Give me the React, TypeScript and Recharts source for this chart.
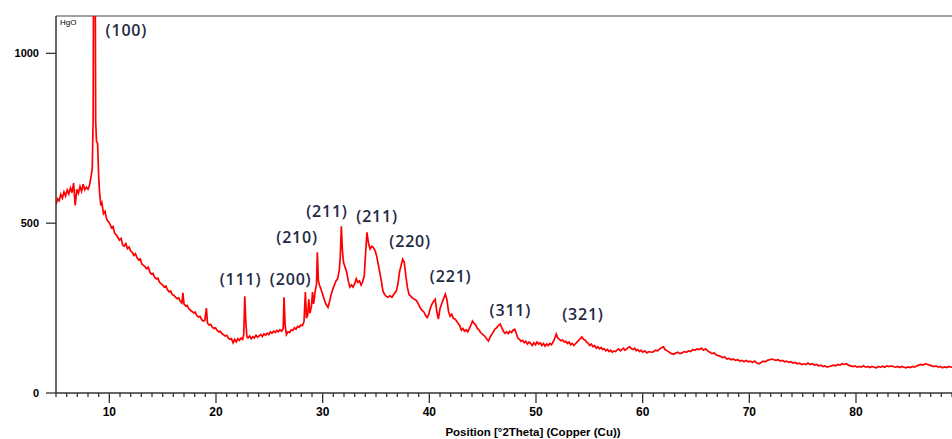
import { LineChart, Line, XAxis, YAxis, ReferenceLine, ReferenceDot } from "recharts";

// XRD scan, [2theta (deg), counts]
const scanLow: [number, number][] = [
  [5.0, 555], [5.15, 572], [5.3, 566], [5.45, 585], [5.6, 574], [5.75, 592], [5.9, 580],
  [6.05, 598], [6.2, 586], [6.35, 604], [6.5, 590], [6.65, 618], [6.8, 552], [6.95, 600],
  [7.1, 588], [7.25, 608], [7.4, 594], [7.55, 615], [7.7, 598], [7.85, 606], [8.0, 600],
  [8.15, 612], [8.3, 640], [8.4, 662], [8.48, 800], [8.55, 1500], [8.65, 1500], [8.72, 800],
  [8.8, 740], [8.9, 735], [9.0, 640], [9.08, 592], [9.2, 552], [9.3, 560],
  [9.45, 528], [9.6, 535], [9.75, 512], [9.9, 505], [10.05, 498], [10.2, 486], [10.35, 490],
  [10.5, 470], [10.65, 466], [10.8, 458], [10.95, 450], [11.1, 455], [11.25, 436], [11.4, 432],
  [11.55, 440], [11.7, 425], [11.85, 430], [12.0, 418], [12.15, 414], [12.3, 405], [12.45, 410],
  [12.6, 398], [12.75, 392], [12.9, 395], [13.05, 380], [13.2, 376], [13.35, 372], [13.5, 366],
  [13.65, 370], [13.8, 356], [13.95, 350], [14.1, 352], [14.25, 340], [14.4, 336], [14.55, 338],
  [14.7, 326], [14.85, 322], [15.0, 318], [15.15, 312], [15.3, 315], [15.45, 304], [15.6, 298],
  [15.75, 300], [15.9, 290], [16.05, 288], [16.2, 282], [16.35, 278], [16.5, 280], [16.65, 270],
  [16.8, 265], [16.9, 295], [17.0, 262], [17.15, 256], [17.3, 258], [17.45, 248], [17.6, 244],
  [17.75, 240], [17.9, 236], [18.05, 238], [18.2, 228], [18.35, 224], [18.5, 226], [18.65, 216],
  [18.8, 212], [18.95, 214], [19.1, 250], [19.2, 206], [19.35, 200], [19.5, 202], [19.65, 194],
  [19.8, 190], [19.95, 192], [20.1, 184], [20.25, 180], [20.4, 182], [20.55, 175], [20.7, 172],
  [20.85, 168], [21.0, 170], [21.15, 162], [21.3, 158], [21.45, 160], [21.6, 148], [21.75, 158],
  [21.9, 150], [22.05, 160], [22.2, 155], [22.35, 162], [22.5, 158], [22.6, 172], [22.7, 285],
  [22.8, 205], [22.9, 165],
];

const scanMid: [number, number][] = [
  [23.0, 162], [23.15, 168], [23.3, 160], [23.45, 166], [23.6, 162], [23.75, 170], [23.9, 164],
  [24.05, 168], [24.2, 172], [24.35, 166], [24.5, 174], [24.65, 170], [24.8, 176], [24.95, 172],
  [25.1, 180], [25.25, 176], [25.4, 182], [25.55, 178], [25.7, 184], [25.85, 180], [26.0, 186],
  [26.15, 182], [26.3, 190], [26.38, 282], [26.48, 200], [26.6, 172], [26.75, 180], [26.9, 178],
  [27.05, 186], [27.2, 184], [27.35, 192], [27.5, 188], [27.65, 196], [27.8, 194], [27.95, 200],
  [28.1, 198], [28.25, 210], [28.38, 297], [28.48, 220], [28.6, 230], [28.7, 276], [28.8, 235],
  [28.95, 255], [29.05, 297], [29.15, 262], [29.3, 300], [29.42, 320], [29.5, 414], [29.6, 330],
  [29.7, 318], [29.85, 305], [30.0, 290], [30.15, 275], [30.3, 262], [30.5, 252], [30.65, 270],
  [30.8, 290], [30.95, 306], [31.1, 318], [31.25, 330], [31.4, 336], [31.55, 360], [31.65, 400],
  [31.75, 491], [31.85, 420], [31.95, 385], [32.1, 370], [32.25, 356], [32.4, 330], [32.55, 312],
  [32.7, 318], [32.85, 312], [33.0, 322], [33.15, 336], [33.3, 326], [33.45, 330], [33.6, 318],
  [33.75, 328], [33.9, 345], [34.0, 400], [34.15, 473], [34.3, 440], [34.45, 424], [34.6, 432],
  [34.75, 428], [34.9, 420], [35.05, 405], [35.2, 380], [35.35, 356], [35.5, 330], [35.65, 300],
  [35.8, 291], [35.95, 285], [36.1, 282], [36.3, 286], [36.5, 282], [36.7, 292], [36.9, 300],
  [37.05, 320], [37.2, 356], [37.35, 375], [37.5, 394], [37.65, 385], [37.8, 344], [37.95, 310],
  [38.1, 290], [38.25, 285], [38.4, 280], [38.6, 276], [38.8, 272], [39.0, 260], [39.15, 250],
  [39.3, 244], [39.5, 238], [39.65, 228], [39.8, 222], [39.95, 232], [40.1, 250], [40.25, 262],
  [40.4, 270], [40.55, 276], [40.7, 240], [40.85, 218], [41.0, 248], [41.15, 262], [41.3, 275],
  [41.5, 291], [41.65, 275], [41.8, 240], [41.95, 226],
];

const scanHigh: [number, number][] = [
  [42.1, 232], [42.25, 220], [42.4, 218], [42.55, 212], [42.7, 205], [42.85, 198], [43.0, 185],
  [43.15, 190], [43.3, 182], [43.45, 186], [43.6, 180], [43.75, 190], [43.9, 200], [44.05, 212],
  [44.2, 205], [44.35, 200], [44.5, 190], [44.65, 186], [44.8, 178], [44.95, 174], [45.1, 170],
  [45.25, 165], [45.4, 158], [45.55, 153], [45.7, 165], [45.85, 172], [46.0, 180], [46.15, 188],
  [46.3, 192], [46.5, 200], [46.65, 203], [46.8, 192], [46.95, 182], [47.1, 176], [47.25, 180],
  [47.4, 175], [47.55, 182], [47.7, 178], [47.85, 185], [48.0, 188], [48.15, 176], [48.3, 162],
  [48.45, 158], [48.6, 152], [48.75, 155], [48.9, 148], [49.05, 152], [49.2, 144], [49.35, 150],
  [49.5, 146], [49.65, 140], [49.8, 148], [49.95, 142], [50.1, 150], [50.25, 144], [50.4, 148],
  [50.55, 140], [50.7, 146], [50.85, 138], [51.0, 144], [51.15, 140], [51.3, 146], [51.45, 142],
  [51.6, 150], [51.75, 160], [51.9, 174], [52.05, 162], [52.2, 158], [52.35, 154], [52.5, 156],
  [52.65, 150], [52.8, 152], [52.95, 146], [53.1, 150], [53.25, 142], [53.4, 146], [53.55, 140],
  [53.7, 145], [53.85, 150], [54.0, 155], [54.15, 160], [54.3, 165], [54.45, 158], [54.6, 156],
  [54.75, 150], [54.9, 146], [55.05, 140], [55.2, 144], [55.35, 136], [55.5, 140], [55.65, 132],
  [55.8, 136], [55.95, 130], [56.1, 134], [56.25, 128], [56.4, 130], [56.55, 124], [56.7, 128],
  [56.85, 122], [57.0, 126], [57.15, 120], [57.3, 124], [57.45, 122], [57.6, 126], [57.75, 130],
  [57.9, 124], [58.05, 128], [58.2, 132], [58.35, 126], [58.5, 130], [58.65, 134], [58.8, 136],
  [58.95, 130], [59.1, 128], [59.25, 132], [59.4, 125], [59.55, 128], [59.7, 122], [59.85, 126],
  [60.0, 120], [60.2, 124], [60.4, 118], [60.6, 122], [60.8, 120], [61.0, 121], [61.2, 126],
  [61.4, 124], [61.6, 130], [61.8, 134], [61.95, 136], [62.1, 128], [62.3, 124], [62.5, 120],
  [62.7, 116], [62.9, 114], [63.1, 118], [63.3, 120], [63.5, 116], [63.7, 118], [63.9, 122],
  [64.1, 120], [64.3, 124], [64.5, 122], [64.7, 128], [64.9, 126], [65.1, 130], [65.3, 128],
  [65.5, 132], [65.7, 126], [65.9, 130], [66.1, 124], [66.3, 120], [66.5, 116], [66.7, 118],
  [66.9, 112], [67.1, 110], [67.3, 108], [67.5, 104], [67.7, 106], [67.9, 100], [68.1, 102],
  [68.3, 98], [68.5, 100], [68.7, 96], [68.9, 98], [69.1, 94], [69.3, 96], [69.5, 92],
  [69.7, 96], [69.9, 92], [70.1, 94], [70.3, 90], [70.5, 94], [70.7, 88], [70.9, 86],
  [71.1, 90], [71.3, 94], [71.5, 92], [71.7, 96], [71.9, 98], [72.1, 100], [72.3, 98],
  [72.5, 96], [72.7, 98], [72.9, 94], [73.1, 96], [73.3, 92], [73.5, 94], [73.7, 90],
  [73.9, 92], [74.1, 88], [74.3, 90], [74.5, 86], [74.7, 88], [74.9, 84], [75.1, 86],
  [75.3, 84], [75.5, 88], [75.7, 84], [75.9, 86], [76.1, 82], [76.3, 84], [76.5, 80],
  [76.7, 82], [76.9, 78], [77.1, 80], [77.3, 76], [77.5, 78], [77.7, 80], [77.9, 82],
  [78.1, 80], [78.3, 84], [78.5, 82], [78.7, 86], [78.9, 84], [79.1, 86], [79.3, 82],
  [79.5, 80], [79.7, 78], [79.9, 80], [80.1, 76], [80.3, 78], [80.5, 76], [80.7, 80],
  [80.9, 76], [81.1, 78], [81.3, 75], [81.5, 78], [81.7, 76], [81.9, 74], [82.1, 78],
  [82.3, 76], [82.5, 79], [82.7, 76], [82.9, 80], [83.1, 78], [83.3, 80], [83.5, 78],
  [83.7, 76], [83.9, 78], [84.1, 75], [84.3, 78], [84.5, 76], [84.7, 74], [84.9, 77],
  [85.1, 75], [85.3, 78], [85.5, 76], [85.7, 80], [85.9, 82], [86.1, 84], [86.3, 82],
  [86.5, 86], [86.7, 84], [86.9, 82], [87.1, 80], [87.3, 78], [87.5, 80], [87.7, 76],
  [87.9, 78], [88.1, 74], [88.3, 77], [88.5, 75], [88.7, 78], [88.9, 76], [89.0, 77],
];

// Miller index labels: [text, 2theta of label centre, counts of label centre]
const peakLabels: [string, number, number][] = [
  ["(100)", 11.6, 1068],
  ["(111)", 22.3, 335],
  ["(200)", 27.0, 335],
  ["(210)", 27.6, 459],
  ["(211)", 30.4, 535],
  ["(211)", 35.1, 521],
  ["(220)", 38.2, 447],
  ["(221)", 42.0, 344],
  ["(311)", 47.6, 244],
  ["(321)", 54.4, 232],
];

const yTicks = [0, 500, 1000];
const xMajor = [10, 20, 30, 40, 50, 60, 70, 80];
const xTicks = Array.from({ length: 85 }, (_, i) => 5 + i);
const xTitle = "Position [°2Theta] (Copper (Cu))";
const sampleName = "HgO";

const rows = [...scanLow, ...scanMid, ...scanHigh].map(([theta, counts]) => ({ theta, counts }));

const axisColor = "#333";
const tickFont = { fontFamily: "Liberation Sans, Arial, sans-serif", fontWeight: 700, fill: "#000" };

function XTick({ x, y, payload }: any) {
  const major = xMajor.includes(payload.value);
  return (
    <g>
      <line x1={x} x2={x} y1={y} y2={y + (major ? 10 : 4)} stroke={axisColor} strokeWidth={1.3} />
      {major && (
        <text x={x} y={y + 23} textAnchor="middle" fontSize={12} {...tickFont}>
          {payload.value}
        </text>
      )}
    </g>
  );
}

function YTick({ x, y, payload }: any) {
  return (
    <g>
      <line x1={x - 10} x2={x} y1={y} y2={y} stroke={axisColor} strokeWidth={1.3} />
      <text x={x - 17} y={y + 4} textAnchor="end" fontSize={11} {...tickFont}>
        {payload.value}
      </text>
    </g>
  );
}

export default function App() {
  return (
    <div style={{ position: "absolute", left: 0, top: 0, width: 952, height: 439, overflow: "hidden", background: "#fff" }}>
      <LineChart width={952} height={439} data={rows} margin={{ top: 16, right: 0, bottom: 0, left: 0 }}>
        <XAxis
          dataKey="theta"
          type="number"
          domain={[5, 89]}
          allowDataOverflow
          ticks={xTicks}
          interval={0}
          tickSize={0}
          tickMargin={0}
          tickLine={false}
          tick={<XTick />}
          height={46}
          axisLine={{ stroke: axisColor, strokeWidth: 1.5 }}
          label={{
            value: xTitle,
            position: "insideBottom",
            offset: 3,
            dx: 29,
            style: { fontFamily: "Liberation Sans, Arial, sans-serif", fontWeight: 700, fontSize: 11.5, fill: "#000" },
          }}
        />
        <YAxis
          type="number"
          domain={[0, 1110]}
          allowDataOverflow
          ticks={yTicks}
          interval={0}
          width={56}
          tickSize={0}
          tickMargin={0}
          tickLine={false}
          tick={<YTick />}
          axisLine={{ stroke: axisColor, strokeWidth: 1.5 }}
        />
        <ReferenceLine y={1110} stroke="#444" strokeWidth={1} />
        <Line
          dataKey="counts"
          type="linear"
          stroke="#ff0000"
          strokeWidth={1.7}
          dot={false}
          isAnimationActive={false}
        />
        {peakLabels.map(([text, tx, ty], i) => (
          <ReferenceDot
            key={i}
            x={tx}
            y={ty}
            r={0}
            shape={(p: any) => (
              <text
                x={p.cx}
                y={p.cy}
                textAnchor="middle"
                dominantBaseline="central"
                fontFamily="Open Sans, sans-serif"
                fontWeight={600}
                fontSize={16}
                letterSpacing={0.8}
                fill="#1f2a44"
              >
                {text}
              </text>
            )}
          />
        ))}
      </LineChart>
      <div
        style={{
          position: "absolute",
          left: 60,
          top: 18,
          fontFamily: "Liberation Sans, Arial, sans-serif",
          fontSize: 8,
          color: "#000",
        }}
      >
        {sampleName}
      </div>
    </div>
  );
}
